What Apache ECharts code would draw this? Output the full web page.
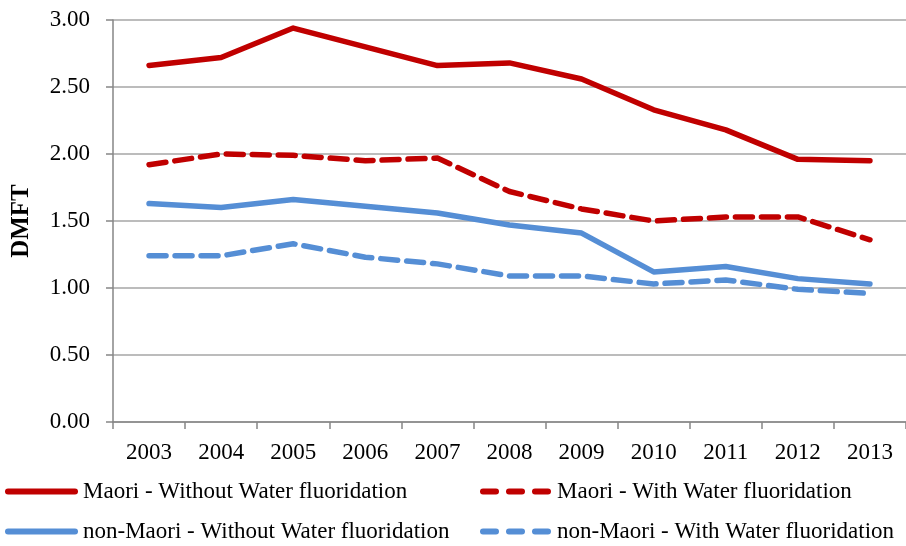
<!DOCTYPE html>
<html><head><meta charset="utf-8">
<script src="https://cdn.jsdelivr.net/npm/echarts@6/dist/echarts.min.js"></script>
<style>html,body{margin:0;padding:0;background:#fff}#c{width:906px;height:546px}</style>
</head><body><div id="c"></div>
<script>
const years = ['2003','2004','2005','2006','2007','2008','2009','2010','2011','2012','2013'];
const maoriWithout = [2.66,2.72,2.94,2.80,2.66,2.68,2.56,2.33,2.18,1.96,1.95];
const maoriWith = [1.92,2.00,1.99,1.95,1.97,1.72,1.59,1.50,1.53,1.53,1.36];
const nonMaoriWithout = [1.63,1.60,1.66,1.61,1.56,1.47,1.41,1.12,1.16,1.07,1.03];
const nonMaoriWith = [1.24,1.24,1.33,1.23,1.18,1.09,1.09,1.03,1.06,0.99,0.96];
const names = ['Maori - Without Water fluoridation','Maori - With Water fluoridation','non-Maori - Without Water fluoridation','non-Maori - With Water fluoridation'];
const RED = '#C00000', BLUE = '#558ED5';
const FONT = 'Liberation Serif';
const SOLID_ICON = 'path://M3,0 H70 A3,3 0 0 1 70,6 H3 A3,3 0 0 1 3,0 Z';
const DASH_ICON = 'path://M3,0 H16 A3,3 0 0 1 16,6 H3 A3,3 0 0 1 3,0 Z M29,0 H42 A3,3 0 0 1 42,6 H29 A3,3 0 0 1 29,0 Z M55,0 H68 A3,3 0 0 1 68,6 H55 A3,3 0 0 1 55,0 Z';
function ser(name, data, color, dashed){
  return {name, type:'line', data, symbol:'none', showSymbol:false, animation:false,
    lineStyle:{color, width:5.5, type: dashed ? [17,9] : 'solid', cap:'round', join:'round'},
    itemStyle:{color}};
}
function leg(name, left, top, dashed){
  return {data:[{name, icon: dashed ? DASH_ICON : SOLID_ICON}], left, top,
    itemWidth:73, itemHeight:6, itemGap:0,
    textStyle:{fontFamily:FONT, fontSize:23, color:'#000', padding:[0,0,0,0]}, padding:0};
}
const chart = echarts.init(document.getElementById('c'), null, {renderer:'canvas'});
chart.setOption({
  animation:false,
  backgroundColor:'#fff',
  grid:{left:113, top:20, width:799, height:402, containLabel:false},
  legend:[leg(names[0],5,480,false), leg(names[1],480,480,true), leg(names[2],5,520,false), leg(names[3],480,520,true)],
  xAxis:{type:'category', data:years, boundaryGap:true,
    axisLine:{lineStyle:{color:'#868686', width:1.5}},
    axisTick:{show:true, length:7, lineStyle:{color:'#868686', width:1.5}},
    axisLabel:{fontFamily:FONT, fontSize:23, color:'#000', margin:19}},
  yAxis:{type:'value', min:0, max:3, interval:0.5,
    name:'DMFT', nameLocation:'middle', nameGap:79, nameRotate:90,
    nameTextStyle:{fontFamily:FONT, fontSize:25, fontWeight:'bold', color:'#000'},
    axisLine:{show:true, lineStyle:{color:'#868686', width:1.5}},
    axisTick:{show:true, length:7, lineStyle:{color:'#868686', width:1.5}},
    splitLine:{lineStyle:{color:'#A6A6A6', width:1.5}},
    axisLabel:{fontFamily:FONT, fontSize:23, color:'#000', margin:23, formatter:v=>v.toFixed(2)}},
  series:[ser(names[0],maoriWithout,RED,false), ser(names[1],maoriWith,RED,true),
          ser(names[2],nonMaoriWithout,BLUE,false), ser(names[3],nonMaoriWith,BLUE,true)]
});
</script></body></html>
